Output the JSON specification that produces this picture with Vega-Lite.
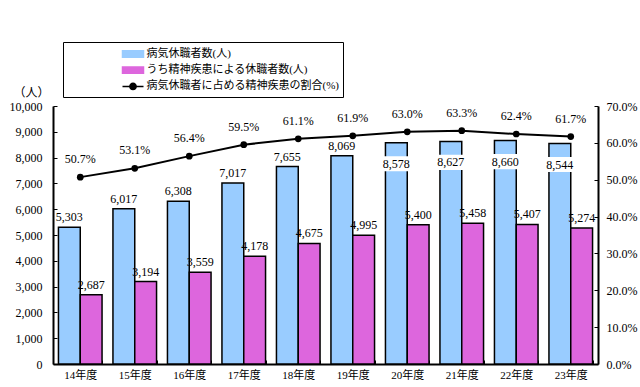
{
  "$schema": "https://vega.github.io/schema/vega-lite/v6.json",
  "width": 545,
  "height": 258,
  "autosize": {"type": "none"},
  "padding": {"left": 53, "top": 106, "right": 42, "bottom": 23},
  "background": "white",
  "config": {
    "view": {"stroke": null},
    "font": "Liberation Serif, Noto Sans CJK JP",
    "axis": {
      "domainColor": "black",
      "domainWidth": 2,
      "tickColor": "black",
      "tickWidth": 1,
      "labelColor": "black",
      "labelFont": "Liberation Serif, Noto Sans CJK JP",
      "labelFontSize": 12,
      "grid": false,
      "titleColor": "black"
    }
  },
  "datasets": {
    "bars": [
      {"year": "14年度", "series": "病気休職者数(人)", "value": 5303},
      {"year": "14年度", "series": "うち精神疾患による休職者数(人)", "value": 2687},
      {"year": "15年度", "series": "病気休職者数(人)", "value": 6017},
      {"year": "15年度", "series": "うち精神疾患による休職者数(人)", "value": 3194},
      {"year": "16年度", "series": "病気休職者数(人)", "value": 6308},
      {"year": "16年度", "series": "うち精神疾患による休職者数(人)", "value": 3559},
      {"year": "17年度", "series": "病気休職者数(人)", "value": 7017},
      {"year": "17年度", "series": "うち精神疾患による休職者数(人)", "value": 4178},
      {"year": "18年度", "series": "病気休職者数(人)", "value": 7655},
      {"year": "18年度", "series": "うち精神疾患による休職者数(人)", "value": 4675},
      {"year": "19年度", "series": "病気休職者数(人)", "value": 8069},
      {"year": "19年度", "series": "うち精神疾患による休職者数(人)", "value": 4995},
      {"year": "20年度", "series": "病気休職者数(人)", "value": 8578},
      {"year": "20年度", "series": "うち精神疾患による休職者数(人)", "value": 5400},
      {"year": "21年度", "series": "病気休職者数(人)", "value": 8627},
      {"year": "21年度", "series": "うち精神疾患による休職者数(人)", "value": 5458},
      {"year": "22年度", "series": "病気休職者数(人)", "value": 8660},
      {"year": "22年度", "series": "うち精神疾患による休職者数(人)", "value": 5407},
      {"year": "23年度", "series": "病気休職者数(人)", "value": 8544},
      {"year": "23年度", "series": "うち精神疾患による休職者数(人)", "value": 5274}
    ],
    "pct": [
      {"year": "14年度", "pct": 0.507},
      {"year": "15年度", "pct": 0.531},
      {"year": "16年度", "pct": 0.564},
      {"year": "17年度", "pct": 0.595},
      {"year": "18年度", "pct": 0.611},
      {"year": "19年度", "pct": 0.619},
      {"year": "20年度", "pct": 0.630},
      {"year": "21年度", "pct": 0.633},
      {"year": "22年度", "pct": 0.624},
      {"year": "23年度", "pct": 0.617}
    ]
  },
  "layer": [
    {
      "data": {"name": "bars"},
      "encoding": {
        "x": {
          "field": "year", "type": "nominal", "sort": null,
          "scale": {"paddingInner": 0.2, "paddingOuter": 0.1},
          "axis": {"title": null, "labelAngle": 0, "tickBand": "extent", "tickSize": -4, "labelPadding": 9, "labelFontSize": 11}
        },
        "xOffset": {"field": "series", "type": "nominal", "sort": ["病気休職者数(人)", "うち精神疾患による休職者数(人)"]},
        "y": {
          "field": "value", "type": "quantitative",
          "scale": {"domain": [0, 10000]},
          "axis": {
            "values": [0, 1000, 2000, 3000, 4000, 5000, 6000, 7000, 8000, 9000, 10000],
            "format": ",d", "tickSize": -4, "labelPadding": 15,
            "title": "（人）", "titleAngle": 0, "titleX": -22, "titleY": -14,
            "titleAlign": "center", "titleBaseline": "middle", "titleFontSize": 12, "titleFontWeight": "normal",
            "titleFont": "Noto Sans CJK JP"
          }
        }
      },
      "layer": [
        {
          "mark": {"type": "bar", "stroke": "black", "strokeWidth": 1.5},
          "encoding": {
            "color": {
              "field": "series", "type": "nominal",
              "scale": {
                "domain": ["病気休職者数(人)", "うち精神疾患による休職者数(人)", "病気休職者に占める精神疾患の割合(%)"],
                "range": ["#99CCFF", "#DD66DD", "black"]
              },
              "legend": {
                "orient": "none", "legendX": 10, "legendY": -64,
                "title": null,
                "padding": 4, "strokeColor": "black",
                "symbolSize": 196, "rowPadding": 1.2, "labelOffset": 5.5,
                "symbolOffset": 58,
                "symbolType": {"expr": "datum.value === '病気休職者に占める精神疾患の割合(%)' ? 'M-1.5,0L1.5,0M-0.45,0A0.45,0.45 0 1,1 0.45,0A0.45,0.45 0 1,1 -0.45,0Z' : 'M-1.5,-0.45L1.5,-0.45L1.5,0.45L-1.5,0.45Z'"},
                "symbolStrokeColor": "black",
                "symbolStrokeWidth": 1.5,
                "symbolOpacity": 1,
                "labelFontSize": 11, "labelFont": "Liberation Serif, Noto Sans CJK JP", "labelColor": "black",
                "labelLimit": 0
              }
            }
          }
        },
        {
          "transform": [{"filter": {"not": {"and": [{"field": "series", "equal": "病気休職者数(人)"}, {"field": "year", "oneOf": ["20年度", "21年度", "22年度", "23年度"]}]}}}],
          "mark": {"type": "text", "baseline": "bottom", "dy": -3, "fontSize": 12, "color": "black"},
          "encoding": {"text": {"field": "value", "type": "quantitative", "format": ",d"}}
        },
        {
          "transform": [{"filter": {"and": [{"field": "series", "equal": "病気休職者数(人)"}, {"field": "year", "oneOf": ["20年度", "21年度", "22年度", "23年度"]}]}}],
          "mark": {"type": "point", "shape": "M-1,-0.42L1,-0.42L1,0.42L-1,0.42Z", "size": 1296, "filled": true, "fill": "white", "opacity": 1, "strokeWidth": 0, "yOffset": 21}
        },
        {
          "transform": [{"filter": {"and": [{"field": "series", "equal": "病気休職者数(人)"}, {"field": "year", "oneOf": ["20年度", "21年度", "22年度", "23年度"]}]}}],
          "mark": {"type": "text", "baseline": "middle", "dy": 21, "fontSize": 12, "color": "black"},
          "encoding": {"text": {"field": "value", "type": "quantitative", "format": ",d"}}
        }
      ]
    },
    {
      "data": {"name": "pct"},
      "encoding": {
        "x": {"field": "year", "type": "nominal", "sort": null},
        "y": {
          "field": "pct", "type": "quantitative",
          "scale": {"domain": [0, 0.7]},
          "axis": {
            "orient": "right", "title": null,
            "values": [0, 0.1, 0.2, 0.3, 0.4, 0.5, 0.6, 0.7],
            "format": ".1%", "tickSize": -4, "labelPadding": 12
          }
        }
      },
      "layer": [
        {
          "mark": {"type": "line", "strokeWidth": 2, "point": {"filled": true, "size": 45, "opacity": 1}},
          "encoding": {"color": {"datum": "病気休職者に占める精神疾患の割合(%)"}}
        },
        {
          "mark": {"type": "text", "baseline": "middle", "dy": -18, "fontSize": 12, "color": "black"},
          "encoding": {"text": {"field": "pct", "type": "quantitative", "format": ".1%"}}
        }
      ]
    }
  ],
  "resolve": {"scale": {"y": "independent"}}
}
